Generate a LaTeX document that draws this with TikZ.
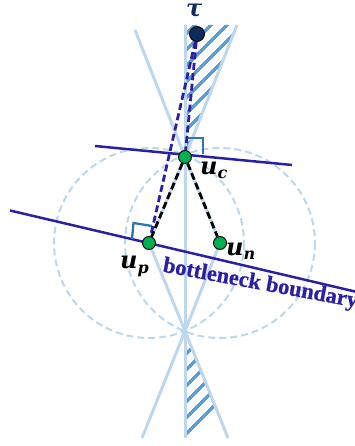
\documentclass[tikz,border=0pt]{standalone}
\usepackage{fontspec}
\newfontfamily\bnfont{Liberation Serif}[BoldFeatures={FakeBold=0.8}]
\newfontfamily\labfont{DejaVu Serif}
\newcommand{\lbig}{\labfont\bfseries\itshape\fontsize{24}{28}\selectfont}
\newcommand{\lsmall}{\labfont\bfseries\itshape\fontsize{16}{18}\selectfont}
\newcommand{\ulab}[2]{{\lbig u}\raisebox{-#2}{\lsmall #1}}
\definecolor{lightln}{HTML}{BDD7EE}
\definecolor{hatchc}{HTML}{5B9BD5}
\definecolor{bnblue}{HTML}{2A20A8}
\definecolor{markc}{HTML}{2E75B6}
\definecolor{navyc}{HTML}{0E2B5E}
\definecolor{gnode}{HTML}{00B050}
\pgfdeclarelayer{bg}
\pgfsetlayers{bg,main}
\begin{document}
\begin{tikzpicture}[x=1pt,y=-1pt,
  lightline/.style={draw=lightln,line width=3pt},
  ring/.style={draw=lightln,line width=2pt,dash pattern=on 7pt off 4pt},
  hatchline/.style={draw=hatchc,line width=3.5pt},
  boundary/.style={draw=bnblue,line width=2.5pt},
  blued/.style={draw=bnblue,line width=2.8pt,dash pattern=on 7pt off 3.5pt},
  blackd/.style={draw=black,line width=2.8pt,dash pattern=on 7pt off 3.5pt},
  rightmark/.style={draw=markc,line width=2.3pt},
  vert/.style={circle,draw=black,line width=0.9pt,fill=gnode,minimum size=13pt,inner sep=0pt},
  taunode/.style={circle,draw=black,line width=0.9pt,fill=navyc,minimum size=15pt,inner sep=0pt},
  lab/.style={inner sep=0pt,anchor=base west}
]
\useasboundingbox (0,0) rectangle (355,446);
% free ends
\coordinate (VT) at (185,25);
\coordinate (VB) at (185,438);
\coordinate (TL) at (135,30);
\coordinate (TR) at (237,25);
\coordinate (BL) at (142,438);
\coordinate (BR) at (228,438);
\coordinate (X) at (185,331);
\coordinate (L1a) at (95,146);
\coordinate (L1b) at (292,165);
\coordinate (L2a) at (10,210.5);
\coordinate (L2b) at (357,292);
% nodes
\node[taunode] (tau) at (197,34) {};
\node[vert] (uc) at (185,157) {};
\node[vert] (up) at (149,243) {};
\node[vert] (un) at (220,243) {};
% labels
\node[lab,text=navyc] (taul) at (186,16.5) {\lbig τ};
\node[lab] (ucl) at (200,175) {\ulab{c}{4pt}};
\node[lab] (upl) at (120,268) {\ulab{p}{5pt}};
\node[lab] (unl) at (226,255) {\ulab{n}{4pt}};
\node[inner sep=0pt,anchor=base west,rotate=-10.5,text=bnblue,
      font=\bnfont\bfseries\fontsize{22.3}{24}\selectfont] (bnl) at (162,271.5) {bottleneck boundary};
\begin{pgfonlayer}{bg}
  % dashed circles
  \draw[ring] (up.center) circle[radius=95];
  \draw[ring] (un.center) circle[radius=95];
  % hatching
  \begin{scope}
    \clip (VT) -- (TR) -- (uc.center) -- cycle;
    \foreach \k in {0,...,32} {\draw[hatchline] (150,470-\k*16) -- ++(220,-220);}
  \end{scope}
  \begin{scope}
    \clip (X) -- (BR) -- (VB) -- cycle;
    \foreach \k in {0,...,32} {\draw[hatchline] (150,470-\k*16) -- ++(220,-220);}
  \end{scope}
  % light cone lines
  \draw[lightline] (VT) -- (VB);
  \draw[lightline] (TL) -- (uc.center) -- (un.center);
  \draw[lightline] (TR) -- (uc.center) -- (up.center);
  \draw[lightline] (un.center) -- (X) -- (BL);
  \draw[lightline] (up.center) -- (X) -- (BR);
  % boundaries
  \draw[boundary] (L1a) -- (L1b);
  \draw[boundary] (L2a) -- (L2b);
  % right angle markers
  \draw[rightmark] ([shift={(2,-19)}]uc.center) -- ++(16,0) -- ++(0,16);
  \draw[rightmark] ([shift={(3,-17)}]up.center) -- ++(-18.5,-3) -- ++(-1.5,16);
  % dashed connectors
  \draw[blued] (tau) -- (uc);
  \draw[blued] (tau) -- (up);
  \draw[blackd] (uc) -- (up);
  \draw[blackd] (uc) -- (un);
\end{pgfonlayer}
\end{tikzpicture}
\end{document}
